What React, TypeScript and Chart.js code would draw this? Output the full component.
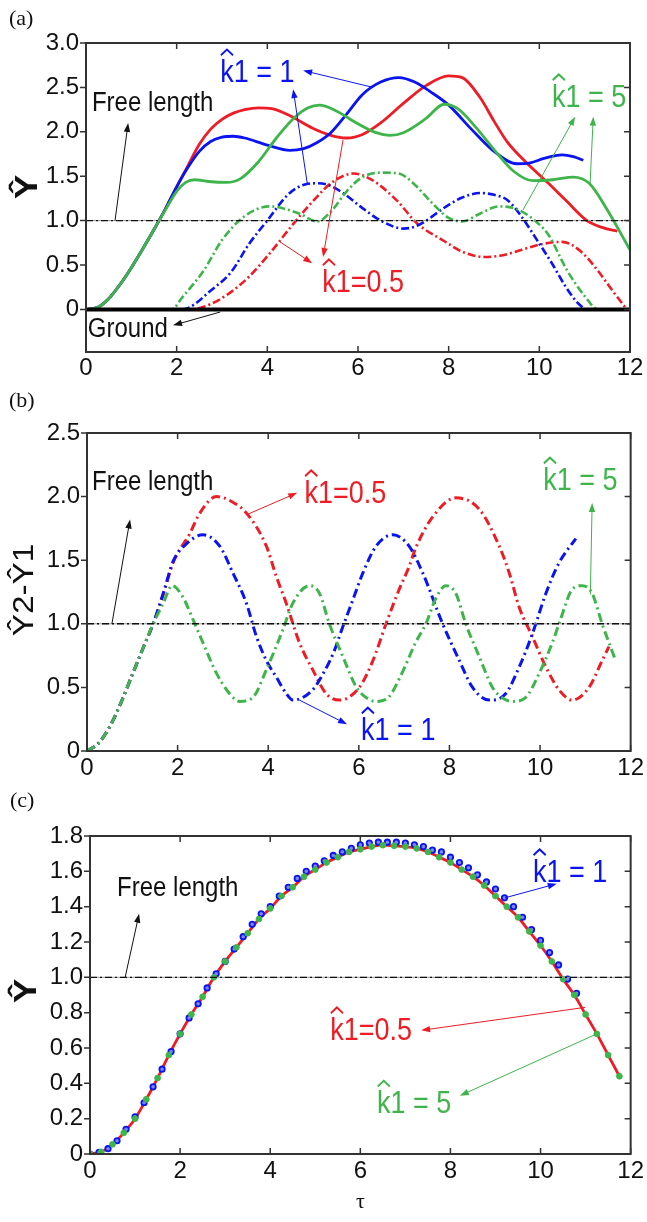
import React, { useEffect, useRef } from 'react';
import { Chart, registerables } from 'chart.js';
Chart.register(...registerables);

type P = [number, number];

const FONT_SANS = '"Liberation Sans", Arial, Helvetica, sans-serif';
const FONT_SERIF = '"Liberation Serif", "Times New Roman", serif';
const RED = '#ee1c25';
const BLUE = '#0a14f0';
const GREEN = '#3db54a';
const INK = '#111111';

// ---------------- Panel (a) ----------------
const A_X_TICKS = [0, 2, 4, 6, 8, 10, 12];
const A_Y_TICKS = [0, 0.5, 1, 1.5, 2, 2.5, 3];
const A_GROUND: P[] = [[0, 0], [12, 0]];
const A_FREE: P[] = [[0, 1], [12, 1]];
const A_RED_SOLID: P[] = [[0, 0], [0.25, 0.02], [0.5, 0.12], [0.75, 0.28], [1, 0.47], [1.25, 0.68], [1.5, 0.9], [1.75, 1.13], [2, 1.38], [2.25, 1.62], [2.5, 1.86], [2.75, 2.03], [3, 2.14], [3.25, 2.21], [3.5, 2.25], [3.8, 2.27], [4.1, 2.26], [4.5, 2.18], [5, 2.04], [5.4, 1.96], [5.75, 1.93], [6.1, 1.97], [6.5, 2.1], [7, 2.32], [7.5, 2.52], [8, 2.63], [8.3, 2.61], [8.7, 2.38], [9, 2.12], [9.3, 1.88], [9.7, 1.66], [10.2, 1.42], [10.6, 1.22], [11.05, 1.0], [11.4, 0.92], [11.72, 0.88]];
const A_BLUE_SOLID: P[] = [[0, 0], [0.25, 0.02], [0.5, 0.12], [0.75, 0.28], [1, 0.47], [1.25, 0.68], [1.5, 0.9], [1.75, 1.13], [2, 1.38], [2.25, 1.6], [2.5, 1.78], [2.75, 1.89], [3, 1.94], [3.25, 1.95], [3.5, 1.93], [4, 1.85], [4.5, 1.79], [4.8, 1.81], [5.1, 1.88], [5.4, 1.99], [5.75, 2.2], [6.1, 2.42], [6.5, 2.56], [6.9, 2.61], [7.25, 2.56], [7.6, 2.45], [8, 2.3], [8.5, 2.03], [9, 1.78], [9.5, 1.64], [9.8, 1.65], [10.1, 1.7], [10.5, 1.74], [10.75, 1.72], [10.97, 1.68]];
const A_GREEN_SOLID: P[] = [[0, 0], [0.25, 0.02], [0.5, 0.12], [0.75, 0.28], [1, 0.47], [1.25, 0.68], [1.5, 0.9], [1.75, 1.12], [2, 1.33], [2.2, 1.43], [2.4, 1.46], [2.7, 1.44], [3.1, 1.43], [3.4, 1.47], [3.8, 1.66], [4.2, 1.93], [4.6, 2.16], [4.9, 2.27], [5.15, 2.3], [5.5, 2.24], [6, 2.09], [6.4, 1.99], [6.7, 1.96], [7, 1.99], [7.5, 2.15], [7.9, 2.31], [8.2, 2.26], [8.6, 2.05], [9, 1.8], [9.4, 1.57], [9.85, 1.45], [10.3, 1.46], [10.75, 1.49], [11.1, 1.42], [11.5, 1.12], [12, 0.67]];
const A_RED_DD: P[] = [[0, 0], [1, 0], [2.3, 0], [2.6, 0.03], [3.1, 0.16], [3.6, 0.37], [4.1, 0.66], [4.6, 0.98], [5.1, 1.27], [5.4, 1.42], [5.9, 1.53], [6.3, 1.46], [6.85, 1.23], [7.3, 0.97], [7.9, 0.77], [8.3, 0.65], [8.8, 0.59], [9.2, 0.61], [9.6, 0.67], [10.1, 0.74], [10.5, 0.76], [10.9, 0.66], [11.3, 0.43], [11.6, 0.22], [11.9, 0.02]];
const A_BLUE_DD: P[] = [[0, 0], [1, 0], [2.15, 0], [2.4, 0.06], [2.7, 0.19], [3.2, 0.42], [3.6, 0.74], [4, 1], [4.45, 1.29], [4.85, 1.41], [5.1, 1.42], [5.35, 1.4], [5.7, 1.3], [6.05, 1.16], [6.5, 1], [7, 0.91], [7.3, 0.94], [7.95, 1.16], [8.3, 1.26], [8.7, 1.31], [9, 1.29], [9.3, 1.23], [9.6, 1.05], [9.95, 0.78], [10.3, 0.5], [10.55, 0.28], [10.8, 0.1], [11, 0]];
const A_GREEN_DD: P[] = [[0, 0], [1, 0], [1.9, 0], [2.1, 0.12], [2.6, 0.44], [3, 0.78], [3.5, 1.05], [4.05, 1.16], [4.7, 1.08], [5.1, 0.99], [5.4, 1.1], [5.75, 1.33], [6.1, 1.49], [6.5, 1.54], [6.9, 1.53], [7.2, 1.43], [7.65, 1.19], [8, 1.03], [8.3, 0.99], [8.7, 1.08], [9.1, 1.16], [9.5, 1.13], [9.9, 1], [10.2, 0.84], [10.6, 0.45], [11, 0.15], [11.3, 0], [12, 0]];

// ---------------- Panel (b) ----------------
const B_X_TICKS = [0, 2, 4, 6, 8, 10, 12];
const B_Y_TICKS = [0, 0.5, 1, 1.5, 2, 2.5];
const B_FREE: P[] = [[0, 1], [12, 1]];
const B_RED: P[] = [[0, 0], [0.25, 0.06], [0.5, 0.19], [0.75, 0.38], [1, 0.6], [1.25, 0.82], [1.46, 1], [1.7, 1.25], [1.9, 1.48], [2.27, 1.71], [2.49, 1.87], [2.86, 2], [3.2, 1.96], [3.52, 1.87], [3.96, 1.61], [4.18, 1.37], [4.4, 1.16], [4.69, 0.85], [4.98, 0.64], [5.28, 0.45], [5.57, 0.4], [6.01, 0.5], [6.31, 0.71], [6.6, 1], [6.89, 1.27], [7.11, 1.45], [7.26, 1.6], [7.63, 1.84], [8.14, 1.99], [8.66, 1.9], [9.1, 1.61], [9.32, 1.4], [9.54, 1.13], [9.83, 0.9], [10.13, 0.66], [10.42, 0.48], [10.71, 0.4], [11.08, 0.5], [11.37, 0.71], [11.52, 0.82]];
const B_BLUE: P[] = [[0, 0], [0.25, 0.06], [0.5, 0.19], [0.75, 0.38], [1, 0.6], [1.25, 0.82], [1.46, 1], [1.7, 1.26], [1.9, 1.49], [2.2, 1.63], [2.56, 1.7], [2.93, 1.61], [3.22, 1.4], [3.52, 1.16], [3.74, 0.9], [3.96, 0.71], [4.18, 0.58], [4.4, 0.45], [4.54, 0.4], [4.98, 0.48], [5.2, 0.6], [5.45, 0.78], [5.65, 0.98], [5.87, 1.19], [6.09, 1.4], [6.38, 1.61], [6.75, 1.7], [7.11, 1.61], [7.41, 1.4], [7.85, 1], [8.22, 0.71], [8.51, 0.5], [8.88, 0.4], [9.24, 0.45], [9.54, 0.66], [9.83, 0.92], [10.13, 1.24], [10.42, 1.48], [10.79, 1.67]];
const B_GREEN: P[] = [[0, 0], [0.25, 0.06], [0.5, 0.19], [0.75, 0.38], [1, 0.6], [1.25, 0.82], [1.46, 1], [1.68, 1.16], [1.88, 1.3], [2.1, 1.22], [2.38, 1], [2.56, 0.85], [2.86, 0.61], [3.15, 0.45], [3.37, 0.39], [3.66, 0.42], [3.96, 0.64], [4.32, 0.95], [4.54, 1.16], [4.91, 1.3], [5.13, 1.24], [5.35, 1], [5.65, 0.74], [5.95, 0.5], [6.2, 0.41], [6.38, 0.39], [6.65, 0.42], [6.95, 0.61], [7.25, 0.85], [7.48, 1], [7.7, 1.2], [7.92, 1.3], [8.14, 1.24], [8.36, 1], [8.66, 0.74], [8.95, 0.5], [9.2, 0.41], [9.39, 0.39], [9.68, 0.42], [9.98, 0.61], [10.27, 0.85], [10.42, 1], [10.71, 1.27], [10.93, 1.3], [11.15, 1.24], [11.37, 1], [11.67, 0.71]];

// ---------------- Panel (c) ----------------
const C_X_TICKS = [0, 2, 4, 6, 8, 10, 12];
const C_Y_TICKS = [0, 0.2, 0.4, 0.6, 0.8, 1, 1.2, 1.4, 1.6, 1.8];
const C_FREE: P[] = [[0, 1], [12, 1]];
const C_RED: P[] = [[0, 0], [0.25, 0.012], [0.5, 0.055], [0.75, 0.12], [1, 0.2], [1.25, 0.31], [1.5, 0.43], [1.75, 0.56], [2, 0.68], [2.25, 0.79], [2.5, 0.89], [2.75, 1], [3, 1.09], [3.25, 1.17], [3.5, 1.25], [3.75, 1.33], [4, 1.39], [4.25, 1.46], [4.5, 1.51], [4.75, 1.57], [5, 1.61], [5.25, 1.65], [5.5, 1.68], [5.75, 1.71], [6, 1.725], [6.25, 1.74], [6.5, 1.748], [6.75, 1.745], [7, 1.74], [7.25, 1.73], [7.5, 1.71], [7.75, 1.68], [8, 1.65], [8.25, 1.61], [8.5, 1.57], [8.75, 1.52], [9, 1.46], [9.25, 1.4], [9.5, 1.34], [9.75, 1.26], [10, 1.18], [10.25, 1.09], [10.5, 0.99], [10.75, 0.9], [11, 0.79], [11.25, 0.68], [11.5, 0.56], [11.75, 0.44]];
const C_BLUE: P[] = [[0, 0], [0.2, 0.01], [0.4, 0.03], [0.6, 0.075], [0.8, 0.14], [1, 0.21], [1.2, 0.29], [1.4, 0.38], [1.6, 0.48], [1.8, 0.58], [2, 0.68], [2.2, 0.77], [2.4, 0.85], [2.6, 0.94], [2.8, 1.02], [3, 1.09], [3.2, 1.16], [3.4, 1.23], [3.6, 1.3], [3.8, 1.36], [4, 1.4], [4.2, 1.46], [4.4, 1.51], [4.6, 1.56], [4.8, 1.6], [5, 1.63], [5.2, 1.66], [5.4, 1.69], [5.6, 1.71], [5.8, 1.73], [6, 1.75], [6.2, 1.76], [6.4, 1.765], [6.6, 1.765], [6.8, 1.765], [7, 1.76], [7.2, 1.75], [7.4, 1.74], [7.6, 1.72], [7.8, 1.71], [8, 1.68], [8.2, 1.65], [8.4, 1.62], [8.6, 1.58], [8.8, 1.54], [9, 1.5], [9.2, 1.45], [9.4, 1.4], [9.6, 1.34], [9.8, 1.27], [10, 1.21], [10.2, 1.14], [10.4, 1.07], [10.6, 0.99], [10.8, 0.91]];
const C_GREEN: P[] = [[0, 0], [0.25, 0.012], [0.5, 0.055], [0.75, 0.12], [1, 0.2], [1.25, 0.31], [1.5, 0.43], [1.75, 0.56], [2, 0.68], [2.25, 0.79], [2.5, 0.89], [2.75, 1], [3, 1.09], [3.25, 1.17], [3.5, 1.25], [3.75, 1.33], [4, 1.39], [4.25, 1.46], [4.5, 1.51], [4.75, 1.57], [5, 1.61], [5.25, 1.65], [5.5, 1.68], [5.75, 1.71], [6, 1.725], [6.25, 1.74], [6.5, 1.748], [6.75, 1.745], [7, 1.74], [7.25, 1.73], [7.5, 1.71], [7.75, 1.68], [8, 1.65], [8.25, 1.61], [8.5, 1.57], [8.75, 1.52], [9, 1.46], [9.25, 1.4], [9.5, 1.34], [9.75, 1.26], [10, 1.18], [10.25, 1.09], [10.5, 0.99], [10.75, 0.9], [11, 0.79], [11.25, 0.68], [11.5, 0.56], [11.75, 0.44]];

// ---------------- helpers ----------------
const pts = (a: P[]) => a.map(([x, y]) => ({ x, y }));

const lineDs = (data: P[], color: string, width: number, order: number, dash?: number[]) => ({
  data: pts(data),
  borderColor: color,
  backgroundColor: color,
  borderWidth: width,
  borderDash: dash || [],
  pointRadius: 0,
  fill: false,
  cubicInterpolationMode: 'monotone',
  order,
});

const freeDs = (data: P[]) => [
  { data: pts(data), borderColor: INK, borderWidth: 1.4, borderDash: [7, 3, 2, 3], pointRadius: 0, fill: false, order: 0 },
  { data: pts(data), borderColor: '#9a9a9a', borderWidth: 1, pointRadius: 0, fill: false, order: 0.5 },
];

type Ann =
  | { t: 'text'; x: number; y: number; s: string; c: string; size: number; hat?: boolean }
  | { t: 'arrow'; x1: number; y1: number; x2: number; y2: number; c: string };

function drawArrow(ctx: CanvasRenderingContext2D, x1: number, y1: number, x2: number, y2: number, c: string) {
  const ang = Math.atan2(y2 - y1, x2 - x1);
  const L = 9, W = 3.2;
  ctx.save();
  ctx.strokeStyle = c;
  ctx.fillStyle = c;
  ctx.lineWidth = 1;
  ctx.beginPath();
  ctx.moveTo(x1, y1);
  ctx.lineTo(x2 - Math.cos(ang) * L * 0.8, y2 - Math.sin(ang) * L * 0.8);
  ctx.stroke();
  ctx.beginPath();
  ctx.moveTo(x2, y2);
  ctx.lineTo(x2 - Math.cos(ang) * L - Math.sin(ang) * W, y2 - Math.sin(ang) * L + Math.cos(ang) * W);
  ctx.lineTo(x2 - Math.cos(ang) * L + Math.sin(ang) * W, y2 - Math.sin(ang) * L - Math.cos(ang) * W);
  ctx.closePath();
  ctx.fill();
  ctx.restore();
}

function drawYTitle(ctx: CanvasRenderingContext2D, text: string, cx: number, cy: number, size: number, weight: string) {
  ctx.save();
  ctx.translate(cx, cy);
  ctx.rotate(-Math.PI / 2);
  ctx.scale(1.15, 1);
  ctx.font = `${weight} ${size}px ${FONT_SANS}`;
  ctx.fillStyle = INK;
  ctx.textAlign = 'center';
  ctx.textBaseline = 'middle';
  ctx.fillText(text, 0, 0);
  ctx.restore();
}

function decorPlugin(xt: number[], yt: number[], anns: Ann[], extra: (ctx: CanvasRenderingContext2D) => void) {
  return {
    id: 'decor',
    afterDraw(chart: any) {
      const { ctx, chartArea, scales } = chart;
      const { left, right, top, bottom } = chartArea;
      const sx = scales.x, sy = scales.y;
      ctx.save();
      ctx.strokeStyle = '#333';
      ctx.lineWidth = 2;
      ctx.strokeRect(left, top, right - left, bottom - top);
      ctx.lineWidth = 1.5;
      ctx.beginPath();
      for (const v of xt) {
        const px = sx.getPixelForValue(v);
        ctx.moveTo(px, top); ctx.lineTo(px, top + 6);
        ctx.moveTo(px, bottom); ctx.lineTo(px, bottom - 6);
      }
      for (const v of yt) {
        const py = sy.getPixelForValue(v);
        ctx.moveTo(left - 6, py); ctx.lineTo(left, py);
        ctx.moveTo(right, py); ctx.lineTo(right - 6, py);
      }
      ctx.stroke();
      for (const a of anns) {
        if (a.t === 'arrow') {
          drawArrow(ctx, sx.getPixelForValue(a.x1), sy.getPixelForValue(a.y1), sx.getPixelForValue(a.x2), sy.getPixelForValue(a.y2), a.c);
        } else {
          const px = sx.getPixelForValue(a.x), py = sy.getPixelForValue(a.y);
          ctx.save();
          ctx.translate(px, py);
          ctx.scale(1, 1.15);
          ctx.font = `${a.size}px ${FONT_SANS}`;
          ctx.fillStyle = a.c;
          ctx.textAlign = 'left';
          ctx.textBaseline = 'alphabetic';
          ctx.fillText(a.s, 0, 0);
          if (a.hat) {
            const kw = ctx.measureText('k').width;
            const hy = -a.size * 1.05;
            ctx.strokeStyle = a.c;
            ctx.lineWidth = 1.8;
            ctx.lineJoin = 'miter';
            ctx.beginPath();
            ctx.moveTo(kw * 0.05, hy + 5);
            ctx.lineTo(kw * 0.5, hy);
            ctx.lineTo(kw * 0.95, hy + 5);
            ctx.stroke();
          }
          ctx.restore();
        }
      }
      extra(ctx);
      ctx.restore();
    },
  };
}

function baseOptions(o: { padTop: number; padRight: number; yWidth: number; xHeight: number; xTicks: number[]; yTicks: number[]; yMin: number; yMax: number; xPad: number; xTitle?: string }) {
  return {
    responsive: false,
    maintainAspectRatio: false,
    animation: false,
    layout: { padding: { top: o.padTop, right: o.padRight, left: 0, bottom: 0 } },
    plugins: { legend: { display: false }, tooltip: { enabled: false }, title: { display: false } },
    elements: { point: { radius: 0 } },
    scales: {
      x: {
        type: 'linear', min: 0, max: 12,
        grid: { display: false, drawTicks: false },
        border: { display: false },
        afterBuildTicks: (s: any) => { s.ticks = o.xTicks.map((v) => ({ value: v })); },
        afterFit: (s: any) => { s.height = o.xHeight; },
        ticks: { font: { family: FONT_SANS, size: 24 }, color: INK, padding: o.xPad, maxRotation: 0, autoSkip: false, callback: (v: any) => String(v) },
        title: o.xTitle
          ? { display: true, text: o.xTitle, font: { family: FONT_SERIF, size: 22 }, color: INK, padding: { top: 0, bottom: 7 } }
          : { display: false },
      },
      y: {
        type: 'linear', min: o.yMin, max: o.yMax,
        grid: { display: false, drawTicks: false },
        border: { display: false },
        afterBuildTicks: (s: any) => { s.ticks = o.yTicks.map((v) => ({ value: v })); },
        afterFit: (s: any) => { s.width = o.yWidth; },
        ticks: { font: { family: FONT_SANS, size: 24 }, color: INK, padding: 7, autoSkip: false, callback: (v: any) => (v === 0 ? '0' : Number(v).toFixed(1)) },
      },
    },
  };
}

const serifLabel = (ctx: CanvasRenderingContext2D, s: string, x: number, y: number) => {
  ctx.save();
  ctx.font = `22px ${FONT_SERIF}`;
  ctx.fillStyle = INK;
  ctx.textAlign = 'left';
  ctx.textBaseline = 'alphabetic';
  ctx.fillText(s, x, y);
  ctx.restore();
};

// ---------------- configs ----------------
function configA() {
  const anns: Ann[] = [
    { t: 'text', x: 0.13, y: 2.23, s: 'Free length', c: INK, size: 24 },
    { t: 'arrow', x1: 0.64, y1: 1.0, x2: 0.93, y2: 2.1, c: INK },
    { t: 'text', x: 2.96, y: 2.56, s: 'k1 = 1', c: BLUE, size: 27, hat: true },
    { t: 'arrow', x1: 6.33, y1: 2.5, x2: 4.79, y2: 2.69, c: BLUE },
    { t: 'arrow', x1: 4.88, y1: 1.42, x2: 4.57, y2: 2.48, c: BLUE },
    { t: 'text', x: 5.21, y: 0.195, s: 'k1=0.5', c: RED, size: 27, hat: true },
    { t: 'arrow', x1: 5.67, y1: 1.91, x2: 5.23, y2: 0.59, c: RED },
    { t: 'arrow', x1: 4.28, y1: 0.76, x2: 4.99, y2: 0.52, c: RED },
    { t: 'text', x: 10.28, y: 2.28, s: 'k1 = 5', c: GREEN, size: 27, hat: true },
    { t: 'arrow', x1: 9.64, y1: 1.12, x2: 10.79, y2: 2.17, c: GREEN },
    { t: 'arrow', x1: 11.12, y1: 1.42, x2: 11.19, y2: 2.17, c: GREEN },
    { t: 'text', x: 0.04, y: -0.31, s: 'Ground', c: INK, size: 24 },
    { t: 'arrow', x1: 2.96, y1: -0.03, x2: 1.92, y2: -0.18, c: INK },
  ];
  return {
    type: 'line',
    data: {
      datasets: [
        ...freeDs(A_FREE),
        { data: pts(A_GROUND), borderColor: '#000', borderWidth: 4, pointRadius: 0, fill: false, order: 0 },
        lineDs(A_RED_DD, RED, 2.6, 6, [8, 3, 2, 3]),
        lineDs(A_BLUE_DD, BLUE, 2.6, 5, [8, 3, 2, 3]),
        lineDs(A_GREEN_DD, GREEN, 2.6, 4, [8, 3, 2, 3]),
        lineDs(A_RED_SOLID, RED, 2.8, 3),
        lineDs(A_BLUE_SOLID, BLUE, 2.8, 2),
        lineDs(A_GREEN_SOLID, GREEN, 2.8, 1),
      ],
    },
    options: baseOptions({ padTop: 43, padRight: 17, yWidth: 86, xHeight: 28, xTicks: A_X_TICKS, yTicks: A_Y_TICKS, yMin: -0.48, yMax: 3, xPad: 2 }),
    plugins: [decorPlugin(A_X_TICKS, A_Y_TICKS, anns, (ctx) => {
      serifLabel(ctx, '(a)', 9, 25);
      drawYTitle(ctx, 'Ŷ', 28, 187, 32, 'bold');
    })],
  };
}

function configB() {
  const anns: Ann[] = [
    { t: 'text', x: 0.11, y: 2.05, s: 'Free length', c: INK, size: 24 },
    { t: 'arrow', x1: 0.55, y1: 1.0, x2: 0.95, y2: 1.82, c: INK },
    { t: 'text', x: 4.8, y: 1.95, s: 'k1=0.5', c: RED, size: 27, hat: true },
    { t: 'arrow', x1: 3.54, y1: 1.86, x2: 4.64, y2: 2.03, c: RED },
    { t: 'text', x: 10.07, y: 2.05, s: 'k1 = 5', c: GREEN, size: 27, hat: true },
    { t: 'arrow', x1: 11.11, y1: 1.23, x2: 11.15, y2: 1.95, c: GREEN },
    { t: 'text', x: 6.05, y: 0.085, s: 'k1 = 1', c: BLUE, size: 27, hat: true },
    { t: 'arrow', x1: 4.69, y1: 0.4, x2: 5.74, y2: 0.21, c: BLUE },
  ];
  return {
    type: 'line',
    data: {
      datasets: [
        ...freeDs(B_FREE),
        lineDs(B_RED, RED, 3, 3, [9, 4, 2, 4]),
        lineDs(B_BLUE, BLUE, 3, 2, [9, 4, 2, 4]),
        lineDs(B_GREEN, GREEN, 3, 1, [9, 4, 2, 4]),
      ],
    },
    options: baseOptions({ padTop: 53, padRight: 15, yWidth: 87, xHeight: 24, xTicks: B_X_TICKS, yTicks: B_Y_TICKS, yMin: 0, yMax: 2.5, xPad: 3 }),
    plugins: [decorPlugin(B_X_TICKS, B_Y_TICKS, anns, (ctx) => {
      serifLabel(ctx, '(b)', 9, 27);
      drawYTitle(ctx, 'Ŷ2-Ŷ1', 25, 210, 29, 'normal');
    })],
  };
}

function configC() {
  const anns: Ann[] = [
    { t: 'text', x: 0.6, y: 1.46, s: 'Free length', c: INK, size: 24 },
    { t: 'arrow', x1: 0.78, y1: 1.0, x2: 1.09, y2: 1.36, c: INK },
    { t: 'text', x: 9.83, y: 1.54, s: 'k1 = 1', c: BLUE, size: 27, hat: true },
    { t: 'arrow', x1: 9.21, y1: 1.45, x2: 10.36, y2: 1.53, c: BLUE },
    { t: 'text', x: 5.33, y: 0.645, s: 'k1=0.5', c: RED, size: 27, hat: true },
    { t: 'arrow', x1: 10.99, y1: 0.83, x2: 7.35, y2: 0.7, c: RED },
    { t: 'text', x: 6.37, y: 0.23, s: 'k1 = 5', c: GREEN, size: 27, hat: true },
    { t: 'arrow', x1: 11.25, y1: 0.68, x2: 8.21, y2: 0.33, c: GREEN },
  ];
  return {
    type: 'line',
    data: {
      datasets: [
        ...freeDs(C_FREE),
        lineDs(C_RED, RED, 2.8, 3),
        { data: pts(C_BLUE), showLine: false, pointRadius: 2.7, pointBorderWidth: 1.8, pointBackgroundColor: '#7d86ff', pointBorderColor: BLUE, borderColor: BLUE, order: 2 },
        { data: pts(C_GREEN), showLine: false, pointRadius: 2.9, pointBorderWidth: 1, pointBackgroundColor: GREEN, pointBorderColor: GREEN, borderColor: GREEN, order: 1 },
      ],
    },
    options: baseOptions({ padTop: 61, padRight: 16, yWidth: 90, xHeight: 68, xTicks: C_X_TICKS, yTicks: C_Y_TICKS, yMin: 0, yMax: 1.8, xPad: 3, xTitle: 'τ' }),
    plugins: [decorPlugin(C_X_TICKS, C_Y_TICKS, anns, (ctx) => {
      serifLabel(ctx, '(c)', 10, 32);
      drawYTitle(ctx, 'Ŷ', 27, 216, 32, 'bold');
    })],
  };
}

function Panel({ top, height, make }: { top: number; height: number; make: () => any }) {
  const ref = useRef<HTMLCanvasElement>(null);
  useEffect(() => {
    const chart = new Chart(ref.current as HTMLCanvasElement, make());
    return () => chart.destroy();
  }, []);
  return (
    <canvas
      ref={ref}
      width={647}
      height={height}
      style={{ position: 'absolute', left: 0, top, width: 647, height, display: 'block' }}
    />
  );
}

export default function App() {
  return (
    <div style={{ position: 'absolute', left: 0, top: 0, width: 647, height: 1222, background: '#fff' }}>
      <Panel top={0} height={380} make={configA} />
      <Panel top={380} height={395} make={configB} />
      <Panel top={775} height={447} make={configC} />
    </div>
  );
}
